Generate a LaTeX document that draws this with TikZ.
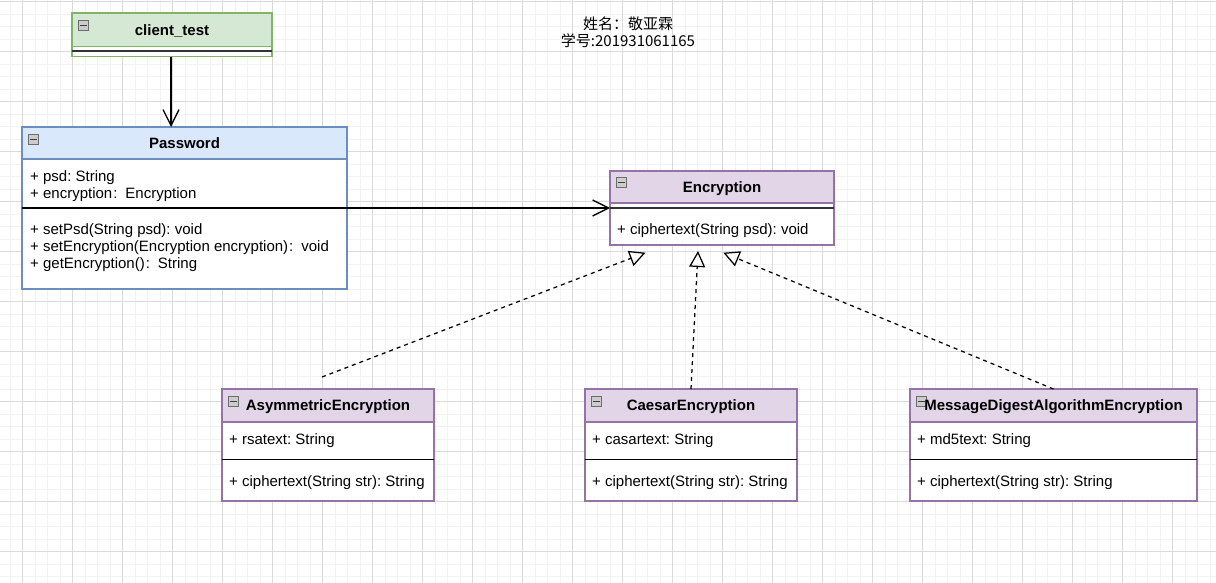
\documentclass[tikz,border=0pt]{standalone}
\usepackage{fontspec}
\setmainfont{Liberation Sans}
\newfontfamily\cjk{Noto Sans CJK SC}
\usetikzlibrary{arrows.meta,calc}
\definecolor{gfill}{HTML}{D5E8D4}\definecolor{gline}{HTML}{82B366}
\definecolor{bfill}{HTML}{DAE8FC}\definecolor{bline}{HTML}{6C8EBF}
\definecolor{pfill}{HTML}{E1D5E7}\definecolor{pline}{HTML}{9673A6}
\definecolor{gridmaj}{RGB}{218,218,218}
\definecolor{gridmin}{RGB}{242,242,242}
\newcommand\wcolon{\hspace{1pt}:\hspace{8pt}}
\tikzset{
  gminor/.style={gridmin, line width=0.7pt},
  gmajor/.style={gridmaj, line width=0.9pt},
  box/.style={anchor=north west, inner sep=0pt, outer sep=0pt, line width=1.3pt, fill=white},
  ttl/.style={anchor=base, inner sep=0pt, font=\fontsize{15}{18}\selectfont\frenchspacing\bfseries},
  txt/.style={anchor=base west, inner sep=0pt, font=\fontsize{15}{18}\selectfont\frenchspacing},
  cjktxt/.style={anchor=base, inner sep=0pt, font=\fontsize{15}{18}\selectfont\frenchspacing\cjk},
  icon/.style={anchor=north west, minimum width=10.5pt, minimum height=10.5pt, inner sep=0pt, outer sep=0pt,
    draw=gray!85!black, fill=gray!40, line width=0.6pt,
    path picture={\draw[black!75,line width=1.2pt] ([xshift=2pt]path picture bounding box.west) -- ([xshift=-2pt]path picture bounding box.east);}},
  sepline/.style={line width=1.25pt, black},
  septhick/.style={line width=2pt, black!80},
  assoc/.style={line width=1.25pt, -{Straight Barb[length=16pt,width=16pt,line width=1.25pt]}},
  realiz/.style={line width=1.25pt, dash pattern=on 4pt off 4pt, -{Triangle[open,length=16pt,width=16pt,line width=1.25pt]}}
}
\begin{document}
\begin{tikzpicture}[x=1pt,y=-1pt]
\useasboundingbox (0,0) rectangle (1216,583);
\fill[white] (0,0) rectangle (1216,583);
% grid
\foreach \i in {0,...,96} \draw[gminor] ({10+12.5*\i},0) -- ({10+12.5*\i},583);
\foreach \i in {0,...,46} \draw[gminor] (0,{1.7+12.5*\i}) -- (1216,{1.7+12.5*\i});
\foreach \i in {0,...,23} \draw[gmajor] ({22.5+50*\i},0) -- ({22.5+50*\i},583);
\foreach \i in {0,...,11} \draw[gmajor] (0,{1.7+50*\i}) -- (1216,{1.7+50*\i});

% heading text
\node[cjktxt] (name) at (628,30) {姓名：敬亚霖};
\node[cjktxt] (sid) at (628,46.7) {学号:201931061165};

% client_test
\node[box, draw=gline, minimum width=200pt, minimum height=43.7pt] (ctbox) at (72,13) {};
\node[box, draw=gline, fill=gfill, minimum width=200pt, minimum height=33.7pt] (cth) at (72,13) {};
\node[ttl] (ctt) at (172,35.7) {client\_test};
\node[icon] (cti) at (78,20) {};
\draw[septhick] ([yshift=-38.5pt]ctbox.north west) -- ([yshift=-38.5pt]ctbox.north east);

% Password
\node[box, draw=bline, minimum width=325pt, minimum height=162pt] (pwbox) at (22,127) {};
\node[box, draw=bline, fill=bfill, minimum width=325pt, minimum height=32pt] (pwh) at (22,127) {};
\node[ttl] (pwt) at (184.5,149) {Password};
\node[icon] (pwi) at (28,134) {};
\node[txt] (pwa1) at (30,182) {+ psd: String};
\node[txt] (pwa2) at (30,199) {+ encryption\wcolon Encryption};
\draw[sepline] (pwbox.west) -- (pwbox.east);
\node[txt] (pwm1) at (30,234) {+ setPsd(String psd): void};
\node[txt] (pwm2) at (30,251) {+ setEncryption(Encryption encryption)\wcolon void};
\node[txt] (pwm3) at (30,268.5) {+ getEncryption()\wcolon String};

% Encryption
\node[box, draw=pline, minimum width=224pt, minimum height=74pt] (encbox) at (610,171) {};
\node[box, draw=pline, fill=pfill, minimum width=224pt, minimum height=32pt] (ench) at (610,171) {};
\node[ttl] (enct) at (722,192.3) {Encryption};
\node[icon] (enci) at (616,177) {};
\draw[septhick] (encbox.west) -- (encbox.east);
\node[txt] (encm) at (617,234) {+ ciphertext(String psd): void};

% AsymmetricEncryption
\node[box, draw=pline, minimum width=212pt, minimum height=112pt] (asbox) at (222,389) {};
\node[box, draw=pline, fill=pfill, minimum width=212pt, minimum height=33pt] (ash) at (222,389) {};
\node[ttl] (ast) at (328,410.7) {AsymmetricEncryption};
\node[icon] (asi) at (228,396) {};
\node[txt] (asa) at (229,444.3) {+ rsatext: String};
\draw[sepline] ([yshift=-70.5pt]asbox.north west) -- ([yshift=-70.5pt]asbox.north east);
\node[txt] (asm) at (229,486) {+ ciphertext(String str): String};

% CaesarEncryption
\node[box, draw=pline, minimum width=212pt, minimum height=112pt] (cabox) at (585,389) {};
\node[box, draw=pline, fill=pfill, minimum width=212pt, minimum height=33pt] (cah) at (585,389) {};
\node[ttl] (cat) at (691,410.7) {CaesarEncryption};
\node[icon] (cai) at (591,396) {};
\node[txt] (caa) at (592,444.3) {+ casartext: String};
\draw[sepline] ([yshift=-70.5pt]cabox.north west) -- ([yshift=-70.5pt]cabox.north east);
\node[txt] (cam) at (592,486) {+ ciphertext(String str): String};

% MessageDigestAlgorithmEncryption
\node[box, draw=pline, minimum width=287pt, minimum height=112pt] (mdbox) at (910,389) {};
\node[box, draw=pline, fill=pfill, minimum width=287pt, minimum height=33pt] (mdh) at (910,389) {};
\node[icon] (mdi) at (916,396) {};
\node[ttl] (mdt) at (1053.5,410.7) {MessageDigestAlgorithmEncryption};
\node[txt] (mda) at (917,444.3) {+ md5text: String};
\draw[sepline] ([yshift=-70.5pt]mdbox.north west) -- ([yshift=-70.5pt]mdbox.north east);
\node[txt] (mdm) at (917,486) {+ ciphertext(String str): String};

% connectors
\draw[assoc] ([xshift=-1pt]ctbox.south) -- ([xshift=-1pt]ctbox.south |- pwbox.north);
\draw[assoc] (pwbox.east) -- (encbox.west);
\coordinate (asfrom) at (322,377);
\coordinate (tipL) at (645.5,252.7);
\coordinate (tipM) at (698,251);
\coordinate (tipR) at (723.3,252.7);
\draw[realiz] (asfrom) -- (tipL);
\draw[realiz] (cah.north) -- (tipM);
\draw[realiz] (mdh.north) -- (tipR);
\end{tikzpicture}
\end{document}
